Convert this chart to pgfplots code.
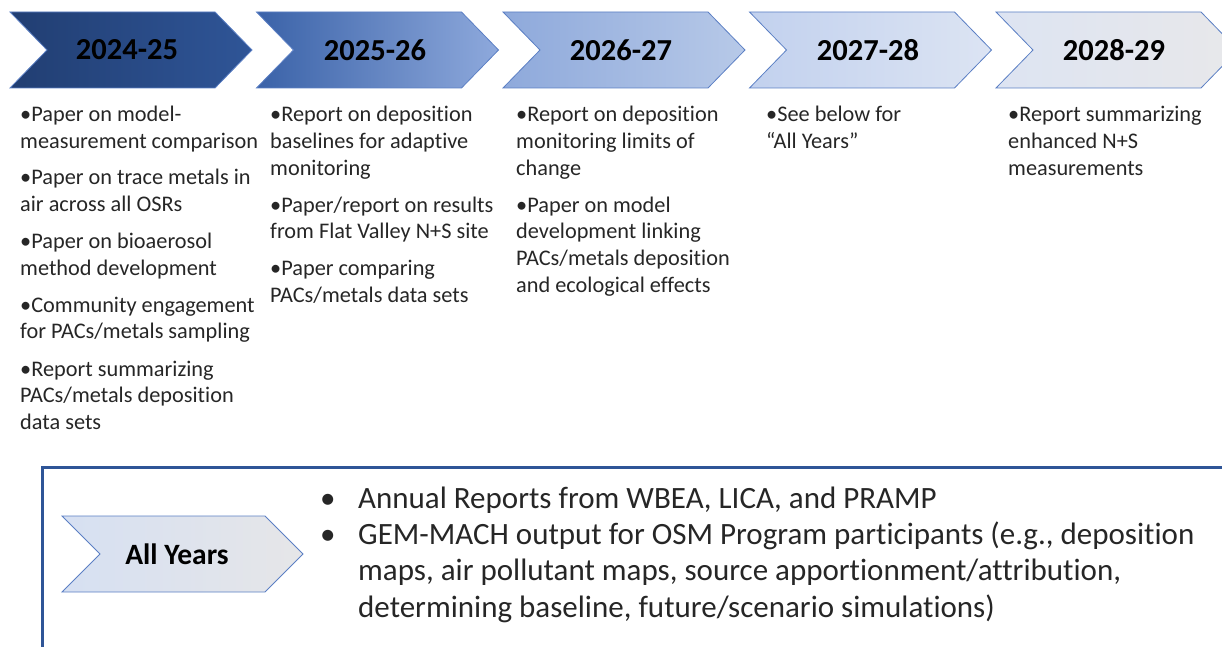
\documentclass[border=0pt]{standalone}
\usepackage{pgfplots}
\pgfplotsset{compat=1.18}
\usepackage{fontspec}
\setmainfont{Carlito}[Ligatures=CommonOff]
\definecolor{edge}{HTML}{5B7FC4}
\definecolor{frame}{HTML}{2F5597}
\definecolor{txt}{HTML}{262626}
\definecolor{a1}{HTML}{213E72}\definecolor{b1}{HTML}{2F5597}
\definecolor{a2}{HTML}{3A62A8}\definecolor{b2}{HTML}{8EA9DC}
\definecolor{a3}{HTML}{8EA9DB}\definecolor{b3}{HTML}{B7C9E8}
\definecolor{a4}{HTML}{C2D1EE}\definecolor{b4}{HTML}{DCE4F3}
\definecolor{a5}{HTML}{DDE4F2}\definecolor{b5}{HTML}{E8E8EA}
\definecolor{a6}{HTML}{D6E0F2}\definecolor{b6}{HTML}{E6E6E8}
\newcommand\bodyfont{\fontsize{22.3}{26.7}\selectfont}
\newcommand\ttlfont{\fontsize{30.5}{36}\selectfont\bfseries}
\newcommand\bigfont{\fontsize{31}{36}\selectfont}
\newcommand\tl[3]{\node[anchor=base west,inner sep=0pt,font=\bodyfont,text=txt] at (axis cs:#1,#2) {#3};}
\newcommand\bl[3]{\node[anchor=base west,inner sep=0pt,font=\bigfont,text=txt] at (axis cs:#1,#2) {#3};}
\begin{document}
\begin{tikzpicture}
\begin{axis}[width=1222pt,height=647pt,scale only axis,xmin=0,xmax=1222,ymin=0,ymax=647,
  y dir=reverse,axis lines=none,clip=false]
% chevrons
\addplot[draw=edge,line width=0.8pt,left color=a1,right color=b1] coordinates {(10,12) (215,12) (252,50) (215,88) (10,88) (47,50)} -- cycle;
\addplot[draw=edge,line width=0.8pt,left color=a2,right color=b2] coordinates {(256.5,12) (461.5,12) (498.5,50) (461.5,88) (256.5,88) (293.5,50)} -- cycle;
\addplot[draw=edge,line width=0.8pt,left color=a3,right color=b3] coordinates {(503,12) (708,12) (745,50) (708,88) (503,88) (540,50)} -- cycle;
\addplot[draw=edge,line width=0.8pt,left color=a4,right color=b4] coordinates {(749.5,12) (954.5,12) (991.5,50) (954.5,88) (749.5,88) (786.5,50)} -- cycle;
\addplot[draw=edge,line width=0.8pt,left color=a5,right color=b5] coordinates {(996,12) (1201,12) (1238,50) (1201,88) (996,88) (1033,50)} -- cycle;
\node[font=\ttlfont] at (axis cs:127,50) {2024-25};
\node[font=\ttlfont] at (axis cs:375,50) {2025-26};
\node[font=\ttlfont] at (axis cs:621,50) {2026-27};
\node[font=\ttlfont] at (axis cs:868,50) {2027-28};
\node[font=\ttlfont] at (axis cs:1114,50) {2028-29};
% column 1
\tl{20}{122}{•Paper on model-}
\tl{20}{148.7}{measurement comparison}
\tl{20}{185}{•Paper on trace metals in}
\tl{20}{211.7}{air across all OSRs}
\tl{20}{248.5}{•Paper on bioaerosol}
\tl{20}{275.2}{method development}
\tl{20}{312}{•Community engagement}
\tl{20}{338.7}{for PACs/metals sampling}
\tl{20}{376}{•Report summarizing}
\tl{20}{402.7}{PACs/metals deposition}
\tl{20}{429.4}{data sets}
% column 2
\tl{270}{122}{•Report on deposition}
\tl{270}{148.7}{baselines for adaptive}
\tl{270}{175.4}{monitoring}
\tl{270}{212}{•Paper/report on results}
\tl{270}{238.7}{from Flat Valley N+S site}
\tl{270}{275.3}{•Paper comparing}
\tl{270}{302}{PACs/metals data sets}
% column 3
\tl{516}{122}{•Report on deposition}
\tl{516}{148.7}{monitoring limits of}
\tl{516}{175.4}{change}
\tl{516}{212}{•Paper on model}
\tl{516}{238.7}{development linking}
\tl{516}{265.4}{PACs/metals deposition}
\tl{516}{292.1}{and ecological effects}
% column 4
\tl{766}{122}{•See below for}
\tl{766}{148.7}{“All Years”}
% column 5
\tl{1008}{122}{•Report summarizing}
\tl{1008}{148.7}{enhanced N+S}
\tl{1008}{175.4}{measurements}
% bottom frame
\addplot[draw=frame,line width=3pt] coordinates {(42,647) (42,467) (1222,467)};
\addplot[draw=edge,line width=0.8pt,left color=a6,right color=b6] coordinates {(62,516) (265,516) (303,554) (265,592) (62,592) (100,554)} -- cycle;
\node[font=\fontsize{29.5}{35}\selectfont\bfseries] at (axis cs:177,554) {All Years};
\bl{320}{508}{•}
\bl{320}{544}{•}
\bl{358}{508}{Annual Reports from WBEA, LICA, and PRAMP}
\bl{358}{544}{GEM-MACH output for OSM Program participants (e.g., deposition}
\bl{358}{580.5}{maps, air pollutant maps, source apportionment/attribution,}
\bl{358}{617}{determining baseline, future/scenario simulations)}
\end{axis}
\pgfresetboundingbox
\path (current axis.south west) rectangle (current axis.north east);
\end{tikzpicture}
\end{document}
